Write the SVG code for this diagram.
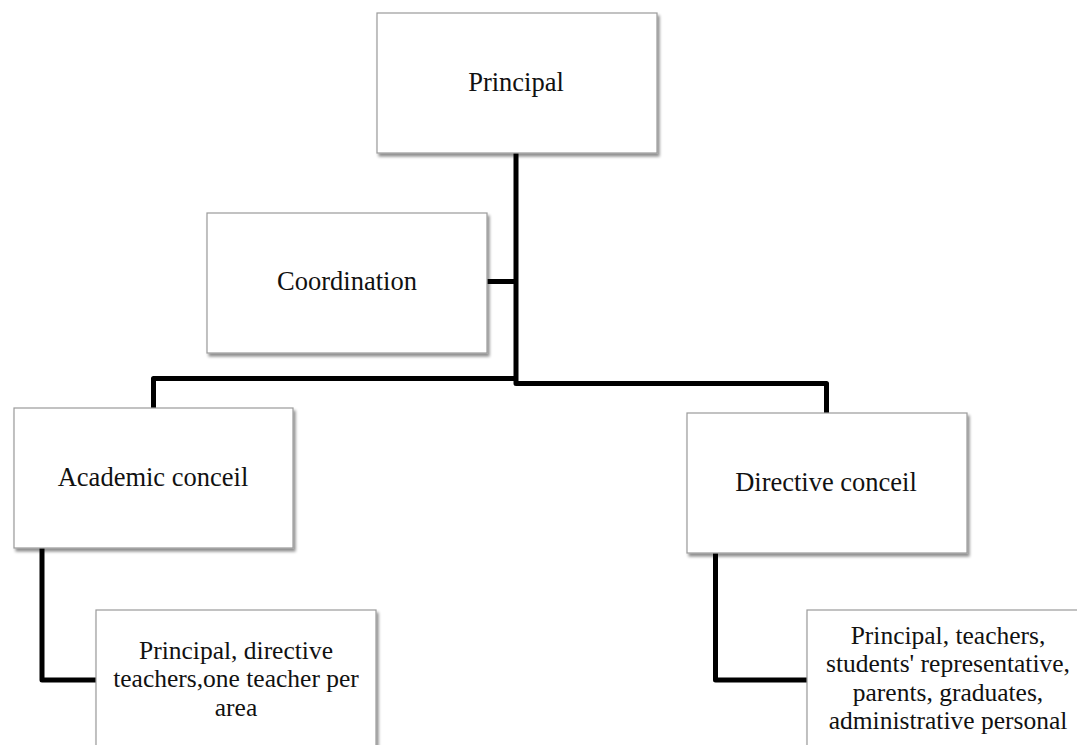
<svg xmlns="http://www.w3.org/2000/svg" width="1077" height="745" viewBox="0 0 1077 745">
<style>
.box{fill:#ffffff;stroke:#9a9a9a;stroke-width:1.2;filter:url(#sh);}
.lbl{font-family:"Liberation Serif","Times New Roman",serif;font-size:26.5px;fill:#111;text-anchor:middle;}
.ml{font-size:25.5px;}
.con{fill:none;stroke:#000;stroke-width:5;stroke-linejoin:round;stroke-linecap:butt;}
</style>
<defs>
<filter id="sh" x="-10%" y="-10%" width="125%" height="130%">
<feGaussianBlur in="SourceAlpha" stdDeviation="1.6"/>
<feOffset dx="1.5" dy="2.5" result="b"/>
<feComponentTransfer><feFuncA type="linear" slope="0.45"/></feComponentTransfer>
<feMerge><feMergeNode/><feMergeNode in="SourceGraphic"/></feMerge>
</filter>
</defs>
<rect width="1077" height="745" fill="#ffffff"/>
<g id="connectors">
<path class="con" d="M516,153 V383.5 H826.5 V413"/>
<path class="con" d="M487,281.5 H516"/>
<path class="con" d="M516,378.5 H153.5 V408"/>
<path class="con" d="M42,548 V680 H96"/>
<path class="con" d="M715.5,553 V680 H807"/>
</g>
<g id="principal">
<rect class="box" x="377" y="13" width="280" height="140"/>
<text class="lbl" x="516" y="91">Principal</text>
</g>
<g id="coordination">
<rect class="box" x="207" y="213" width="280" height="140"/>
<text class="lbl" x="347" y="290">Coordination</text>
</g>
<g id="academic">
<rect class="box" x="14" y="408" width="279" height="140"/>
<text class="lbl" x="153" y="486">Academic conceil</text>
</g>
<g id="directive">
<rect class="box" x="687" y="413" width="280" height="140"/>
<text class="lbl" x="826" y="491">Directive conceil</text>
</g>
<g id="academic-members">
<rect class="box" x="96" y="610" width="280" height="160"/>
<text class="lbl ml" x="236" y="658.5">Principal, directive</text>
<text class="lbl ml" x="236" y="687">teachers,one teacher per</text>
<text class="lbl ml" x="236" y="715.5">area</text>
</g>
<g id="directive-members">
<rect class="box" x="807" y="610" width="282" height="160"/>
<text class="lbl ml" x="948" y="643.75">Principal, teachers,</text>
<text class="lbl ml" x="948" y="672.25">students' representative,</text>
<text class="lbl ml" x="948" y="700.75">parents, graduates,</text>
<text class="lbl ml" x="948" y="729.25">administrative personal</text>
</g>
</svg>
